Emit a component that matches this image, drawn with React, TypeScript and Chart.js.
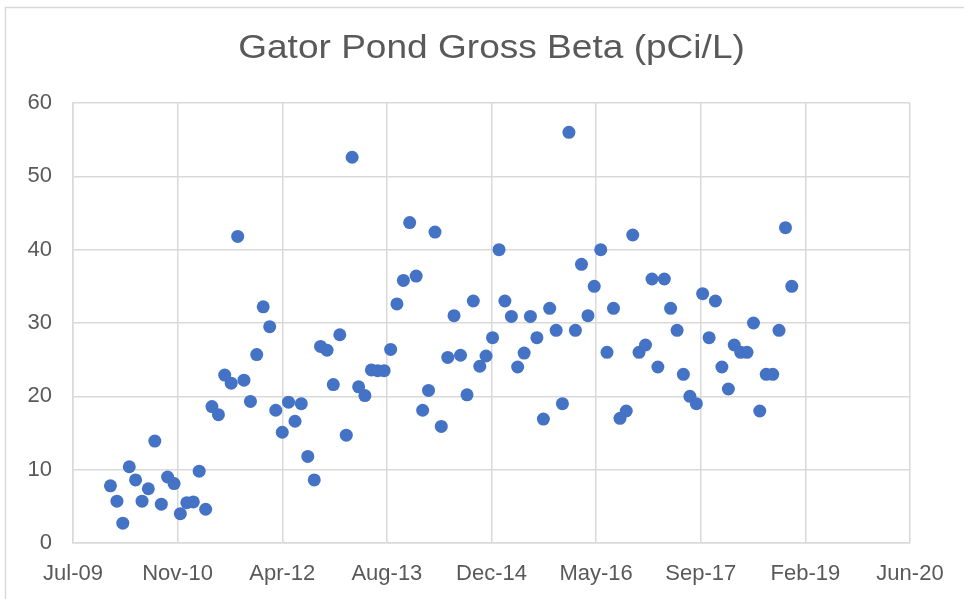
import { useEffect, useRef } from "react";
import { Chart, registerables } from "chart.js";

Chart.register(...registerables);

const TITLE = "Gator Pond Gross Beta (pCi/L)";

// Sample months (one sample per month)
const sampleMonths: string[] = [
  "2010-01", "2010-02", "2010-03", "2010-04", "2010-05", "2010-06", "2010-07", "2010-08", "2010-09", "2010-10", "2010-11", "2010-12",
  "2011-01", "2011-02", "2011-03", "2011-04", "2011-05", "2011-06", "2011-07", "2011-08", "2011-09", "2011-10", "2011-11", "2011-12",
  "2012-01", "2012-02", "2012-03", "2012-04", "2012-05", "2012-06", "2012-07", "2012-08", "2012-09", "2012-10", "2012-11", "2012-12",
  "2013-01", "2013-02", "2013-03", "2013-04", "2013-05", "2013-06", "2013-07", "2013-08", "2013-09", "2013-10", "2013-11", "2013-12",
  "2014-01", "2014-02", "2014-03", "2014-04", "2014-05", "2014-06", "2014-07", "2014-08", "2014-09", "2014-10", "2014-11", "2014-12",
  "2015-01", "2015-02", "2015-03", "2015-04", "2015-05", "2015-06", "2015-07", "2015-08", "2015-09", "2015-10", "2015-11", "2015-12",
  "2016-01", "2016-02", "2016-03", "2016-04", "2016-05", "2016-06", "2016-07", "2016-08", "2016-09", "2016-10", "2016-11", "2016-12",
  "2017-01", "2017-02", "2017-03", "2017-04", "2017-05", "2017-06", "2017-07", "2017-08", "2017-09", "2017-10", "2017-11", "2017-12",
  "2018-01", "2018-02", "2018-03", "2018-04", "2018-05", "2018-06", "2018-07", "2018-08", "2018-09", "2018-10", "2018-11", "2018-12",
];

// Gross beta (pCi/L)
const grossBeta: number[] = [
  7.8, 5.7, 2.7, 10.4, 8.6, 5.7, 7.4, 13.9, 5.3, 9.0, 8.1, 4.0,
  5.5, 5.6, 9.8, 4.6, 18.6, 17.5, 22.9, 21.8, 41.8, 22.2, 19.3, 25.7,
  32.2, 29.5, 18.1, 15.1, 19.2, 16.6, 19.0, 11.8, 8.6, 26.8, 26.3, 21.6,
  28.4, 14.7, 52.6, 21.3, 20.1, 23.6, 23.5, 23.5, 26.4, 32.6, 35.8, 43.7,
  36.4, 18.1, 20.8, 42.4, 15.9, 25.3, 31.0, 25.6, 20.2, 33.0, 24.1, 25.5,
  28.0, 40.0, 33.0, 30.9, 24.0, 25.9, 30.9, 28.0, 16.9, 32.0, 29.0, 19.0,
  56.0, 29.0, 38.0, 31.0, 35.0, 40.0, 26.0, 32.0, 17.0, 18.0, 42.0, 26.0,
  27.0, 36.0, 24.0, 36.0, 32.0, 29.0, 23.0, 20.0, 19.0, 34.0, 28.0, 33.0,
  24.0, 21.0, 27.0, 26.0, 26.0, 30.0, 18.0, 23.0, 23.0, 29.0, 43.0, 35.0,
];

// X axis in spreadsheet serial days (40000 = Jul-09), ticks every 500 days
const X_MIN = 40000;
const X_MAX = 44000;
const X_STEP = 500;
const Y_MIN = 0;
const Y_MAX = 60;
const Y_STEP = 10;

const MONTH_NAMES = ["Jan", "Feb", "Mar", "Apr", "May", "Jun", "Jul", "Aug", "Sep", "Oct", "Nov", "Dec"];
const EPOCH = Date.UTC(1899, 11, 30);

function toSerial(ym: string): number {
  const [y, m] = ym.split("-").map(Number);
  return (Date.UTC(y, m - 1, 1) - EPOCH) / 86400000;
}

function formatSerial(serial: number): string {
  const d = new Date(EPOCH + serial * 86400000);
  return MONTH_NAMES[d.getUTCMonth()] + "-" + String(d.getUTCFullYear() % 100).padStart(2, "0");
}

const FONT = '"Liberation Sans", Arial, sans-serif';
const TEXT_COLOR = "#595959";
const GRID_COLOR = "#d9d9d9";
const POINT_COLOR = "#4472C4";

const framePlugin = {
  id: "frame",
  beforeDraw(chart: any) {
    const ctx = chart.ctx;
    ctx.save();
    ctx.fillStyle = "#ffffff";
    ctx.fillRect(0, 0, chart.width, chart.height);
    ctx.strokeStyle = GRID_COLOR;
    ctx.lineWidth = 1.5;
    ctx.strokeRect(5.5, 7.5, chart.width + 20, chart.height + 20);
    ctx.restore();
  },
};

const titlePlugin = {
  id: "stretchedTitle",
  afterDraw(chart: any) {
    const ctx = chart.ctx;
    const ca = chart.chartArea;
    ctx.save();
    ctx.font = "34px " + FONT;
    ctx.fillStyle = TEXT_COLOR;
    ctx.textAlign = "center";
    ctx.textBaseline = "alphabetic";
    ctx.translate((ca.left + ca.right) / 2, 58);
    ctx.scale(1.09, 1);
    ctx.fillText(TITLE, 0, 0);
    ctx.restore();
  },
};

export default function App() {
  const canvasRef = useRef<HTMLCanvasElement | null>(null);

  useEffect(() => {
    const canvas = canvasRef.current;
    if (!canvas) return;
    const points = sampleMonths.map((m, i) => ({ x: toSerial(m), y: grossBeta[i] }));
    const chart = new Chart(canvas, {
      type: "scatter",
      data: {
        datasets: [
          {
            label: TITLE,
            data: points,
            backgroundColor: POINT_COLOR,
            borderColor: POINT_COLOR,
            borderWidth: 0,
            pointRadius: 6.5,
            pointHoverRadius: 6.5,
          },
        ],
      },
      options: {
        animation: false,
        responsive: false,
        devicePixelRatio: 1,
        layout: { padding: { top: 103, right: 54, bottom: 0, left: 0 } },
        plugins: {
          legend: { display: false },
          title: { display: false },
          tooltip: { enabled: false },
        },
        scales: {
          x: {
            type: "linear",
            min: X_MIN,
            max: X_MAX,
            afterFit: (s: any) => {
              s.height = 56;
            },
            ticks: {
              stepSize: X_STEP,
              autoSkip: false,
              maxRotation: 0,
              padding: 18,
              color: TEXT_COLOR,
              font: { family: FONT, size: 22 },
              callback: (v: any) => formatSerial(Number(v)),
            },
            grid: { color: GRID_COLOR, lineWidth: 1.5, drawTicks: false },
            border: { color: GRID_COLOR, width: 1.5 },
          },
          y: {
            min: Y_MIN,
            max: Y_MAX,
            afterFit: (s: any) => {
              s.width = 73;
            },
            ticks: {
              stepSize: Y_STEP,
              padding: 21,
              color: TEXT_COLOR,
              font: { family: FONT, size: 22 },
            },
            grid: { color: GRID_COLOR, lineWidth: 1.5, drawTicks: false },
            border: { color: GRID_COLOR, width: 1.5 },
          },
        },
      },
      plugins: [framePlugin, titlePlugin],
    });
    return () => chart.destroy();
  }, []);

  return (
    <div style={{ position: "absolute", left: 0, top: 0, width: 964, height: 599 }}>
      <canvas ref={canvasRef} width={964} height={599} style={{ display: "block" }} />
    </div>
  );
}
